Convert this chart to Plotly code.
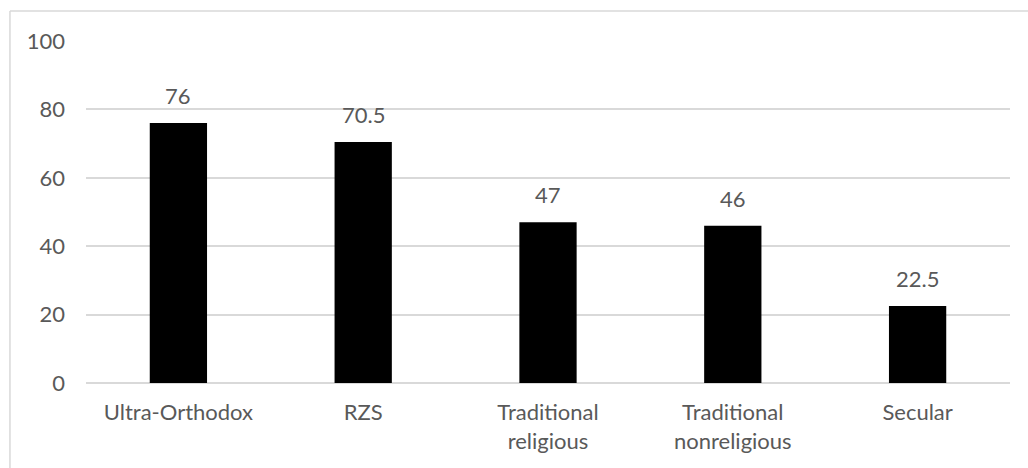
import plotly.graph_objects as go

categories = ["Ultra-Orthodox", "RZS", "Traditional<br>religious", "Traditional<br>nonreligious", "Secular"]
values = [76, 70.5, 47, 46, 22.5]
value_labels = ["76", "70.5", "47", "46", "22.5"]
y_ticks = [0, 20, 40, 60, 80, 100]

FONT = "Lato"
GRAY = "#595959"
GRID = "#d9d9d9"
FS = 22

fig = go.Figure()
fig.add_trace(go.Bar(x=categories, y=values, marker=dict(color="#000000", line=dict(width=0)),
                     hoverinfo="skip"))

for c, v, t in zip(categories, values, value_labels):
    fig.add_annotation(x=c, y=v, text=t, showarrow=False, yanchor="bottom", yshift=12,
                       font=dict(family=FONT, size=FS, color=GRAY))

# outer chart border (left and top edges)
fig.add_shape(type="line", xref="paper", yref="paper", x0=-0.0823, x1=-0.0823, y0=-0.3, y1=1.0877,
              line=dict(color=GRID, width=1.5))
fig.add_shape(type="line", xref="paper", yref="paper", x0=-0.0823, x1=1.1, y0=1.0877, y1=1.0877,
              line=dict(color=GRID, width=1.5))

fig.update_layout(
    width=1028, height=468,
    margin=dict(l=86, r=18, t=41, b=85),
    paper_bgcolor="white", plot_bgcolor="white",
    bargap=0.69, showlegend=False,
    font=dict(family=FONT, size=FS, color=GRAY),
)
fig.update_xaxes(showgrid=False, showline=False, ticks="", ticklabelstandoff=14,
                 tickfont=dict(family=FONT, size=FS, color=GRAY))
fig.update_yaxes(range=[0, 100], tickvals=y_ticks, showgrid=True, gridcolor=GRID, gridwidth=1.5,
                 zeroline=True, zerolinecolor=GRID, zerolinewidth=1.5, showline=False, ticks="",
                 ticklabelstandoff=20, tickfont=dict(family=FONT, size=FS, color=GRAY))

fig.write_html("out.html")
